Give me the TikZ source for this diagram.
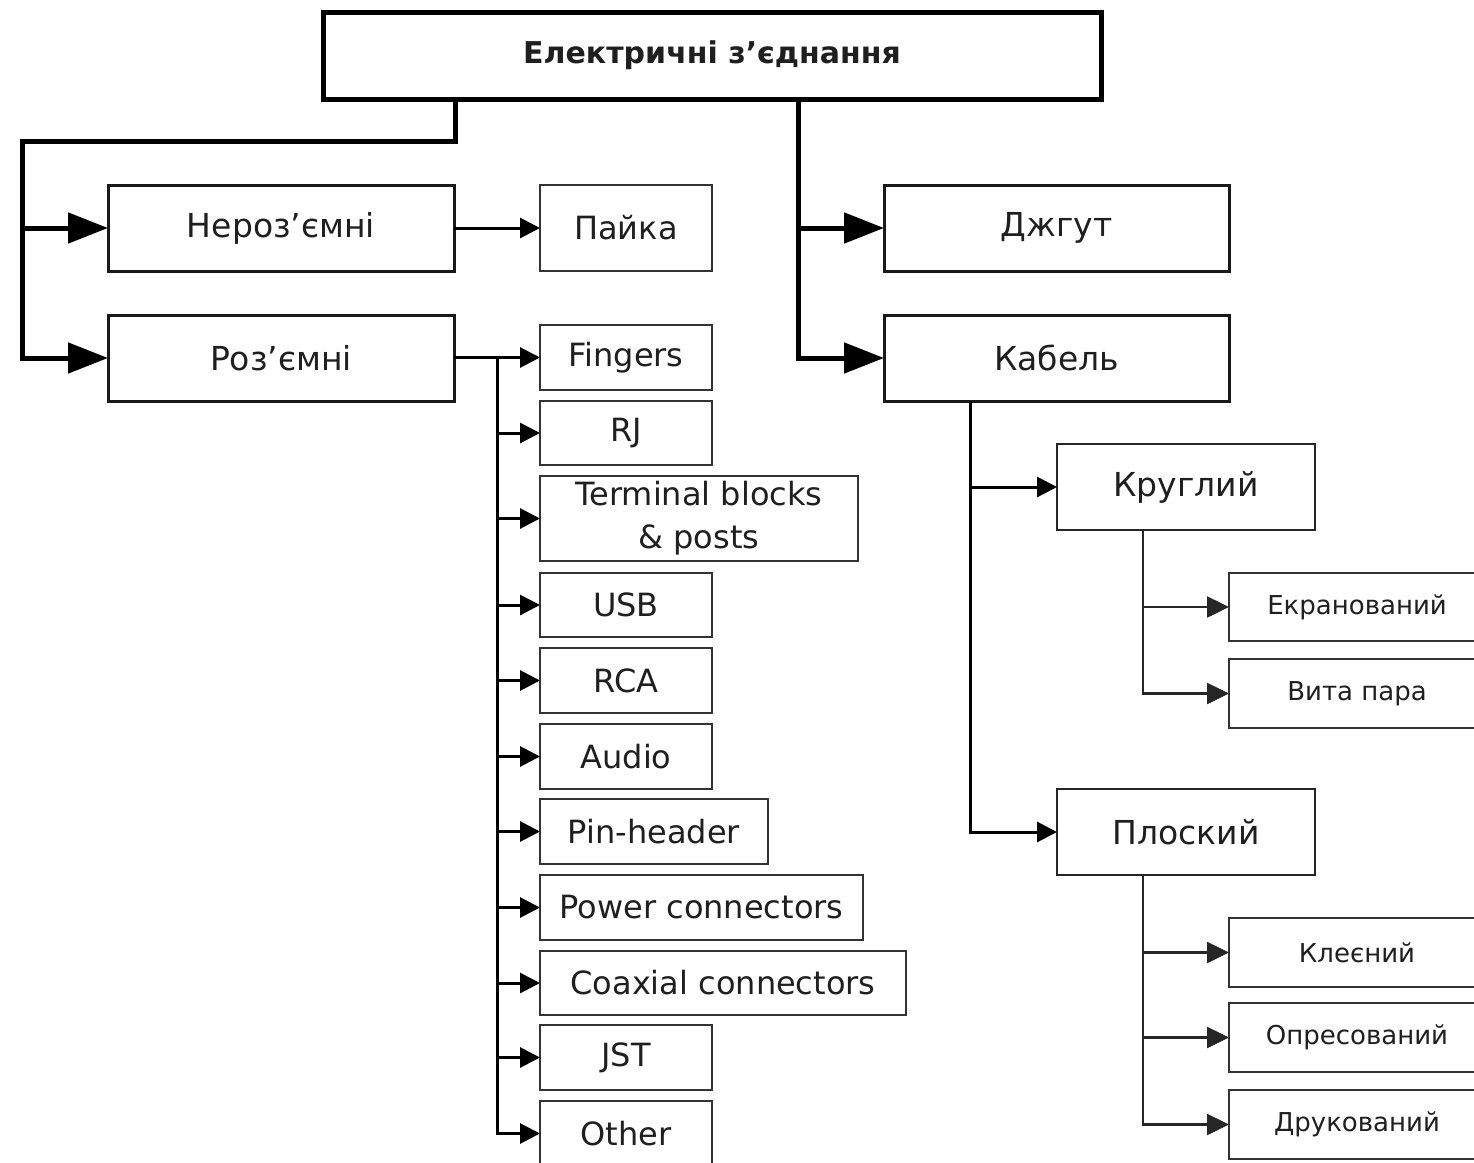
\documentclass[tikz,border=0pt]{standalone}
\usepackage{fontspec}
\setmainfont{DejaVu Sans}
\usetikzlibrary{arrows.meta,calc}
\begin{document}
\begin{tikzpicture}[x=1pt,y=1pt,
  every node/.style={text=black!88, inner sep=0pt, outer sep=0pt},
  rootbox/.style={draw=black, line width=5pt, minimum width=778pt, minimum height=87pt, font=\fontsize{30}{36}\selectfont\bfseries},
  mainbox/.style={draw=black!90, line width=3pt, minimum width=346pt, minimum height=86pt, font=\fontsize{33}{40}\selectfont},
  conbox/.style={draw=black!80, line width=2.5pt, minimum height=65pt, font=\fontsize{32}{43}\selectfont, align=center},
  kindbox/.style={draw=black!85, line width=2.5pt, minimum width=258pt, minimum height=86pt, font=\fontsize{33}{40}\selectfont},
  subbox/.style={draw=black!80, line width=2.2pt, minimum width=256pt, minimum height=68pt, font=\fontsize{26}{32}\selectfont},
  thickline/.style={draw=black, line width=5pt, line join=miter},
  thickarrow/.style={thickline, -{Triangle[length=40pt,width=30pt]}},
  midline/.style={draw=black, line width=3pt},
  midarrow/.style={midline, -{Triangle[length=20pt,width=20pt]}},
  thinline/.style={draw=black!85, line width=2.5pt},
  thinarrow/.style={thinline, -{Triangle[length=22pt,width=21pt]}}
]
\useasboundingbox (0,0) rectangle (1474,-1162);
\clip (0,0) rectangle (1474,-1162);
\fill[white] (0,0) rectangle (1474,-1162);

% root
\node[rootbox] (root) at (712,-55.5) {Електричні з’єднання};

% level 1
\node[mainbox] (nerozemni) at (281,-228) {Нероз’ємні};
\node[mainbox] (rozemni) at (281,-358) {Роз’ємні};
\node[mainbox, minimum width=345pt] (dzhgut) at (1056.5,-228) {Джгут};
\node[mainbox, minimum width=345pt] (kabel) at (1056.5,-358) {Кабель};

% soldered
\node[conbox, minimum width=172pt, minimum height=86pt] (pajka) at (626,-228) {Пайка};

% connectors
\node[conbox, minimum width=172pt] (fingers) at (626,-357.5) {Fingers};
\node[conbox, minimum width=172pt, minimum height=64pt] (rj) at (626,-433) {RJ};
\node[conbox, minimum width=318pt, minimum height=85pt] (terminal) at (699,-518.5) {Terminal blocks\\\& posts};
\node[conbox, minimum width=172pt, minimum height=64pt] (usb) at (626,-605) {USB};
\node[conbox, minimum width=172pt] (rca) at (626,-680.5) {RCA};
\node[conbox, minimum width=172pt] (audio) at (626,-756.5) {Audio};
\node[conbox, minimum width=228pt] (pinheader) at (654,-831.5) {Pin-header};
\node[conbox, minimum width=323pt] (power) at (701.5,-907.5) {Power connectors};
\node[conbox, minimum width=366pt, minimum height=64pt] (coax) at (723,-983) {Coaxial connectors};
\node[conbox, minimum width=172pt] (jst) at (626,-1057.5) {JST};
\node[conbox, minimum width=172pt] (other) at (626,-1133.5) {Other};

% cable kinds
\node[kindbox] (kruglyi) at (1186,-487) {Круглий};
\node[kindbox] (ploskyi) at (1186,-832) {Плоский};

\node[subbox] (ekran) at (1357,-607) {Екранований};
\node[subbox, minimum height=69pt] (vyta) at (1357,-693.5) {Вита пара};
\node[subbox, minimum height=69pt] (kleyenyi) at (1357,-952.5) {Клеєний};
\node[subbox, minimum height=69pt] (opres) at (1357,-1037.5) {Опресований};
\node[subbox, minimum height=69pt] (drukov) at (1357,-1124.5) {Друкований};

% root connectors
\coordinate (tl) at ($(root.south west)+(132,0)$);
\coordinate (bend) at (22,-141);
\coordinate (tr) at ($(root.south west)+(475,0)$);
\draw[thickarrow] (tl) |- (bend) |- (rozemni.west);
\draw[thickarrow] (bend |- nerozemni.west) -- (nerozemni.west);
\draw[thickarrow] (tr) |- (kabel.west);
\draw[thickarrow] (tr |- dzhgut.west) -- (dzhgut.west);

% soldering
\draw[midarrow] (nerozemni.east) -- (pajka.west);

% detachable connectors
\coordinate (rt) at (497,-357.5);
\draw[midarrow] (rozemni.east |- fingers.west) -- (fingers.west);
\draw[midline] (rt) -- (rt |- other.west);
\foreach \n in {rj,terminal,usb,rca,audio,pinheader,power,coax,jst}
  \draw[midarrow] (rt |- \n.west) -- (\n.west);
\draw[midarrow, line join=miter] (rt) |- (other.west);

% cable branch
\coordinate (kt) at ($(kabel.south west)+(86,0)$);
\draw[midarrow, line join=miter] (kt) |- (ploskyi.west);
\draw[midarrow] (kt |- kruglyi.west) -- (kruglyi.west);

% round cable branch
\coordinate (kr) at ($(kruglyi.south west)+(86,0)$);
\draw[thinarrow, line join=miter] (kr) |- (vyta.west);
\draw[thinarrow] (kr |- ekran.west) -- (ekran.west);

% flat cable branch
\coordinate (kp) at ($(ploskyi.south west)+(86,0)$);
\draw[thinarrow, line join=miter] (kp) |- (drukov.west);
\draw[thinarrow] (kp |- kleyenyi.west) -- (kleyenyi.west);
\draw[thinarrow] (kp |- opres.west) -- (opres.west);
\end{tikzpicture}
\end{document}
